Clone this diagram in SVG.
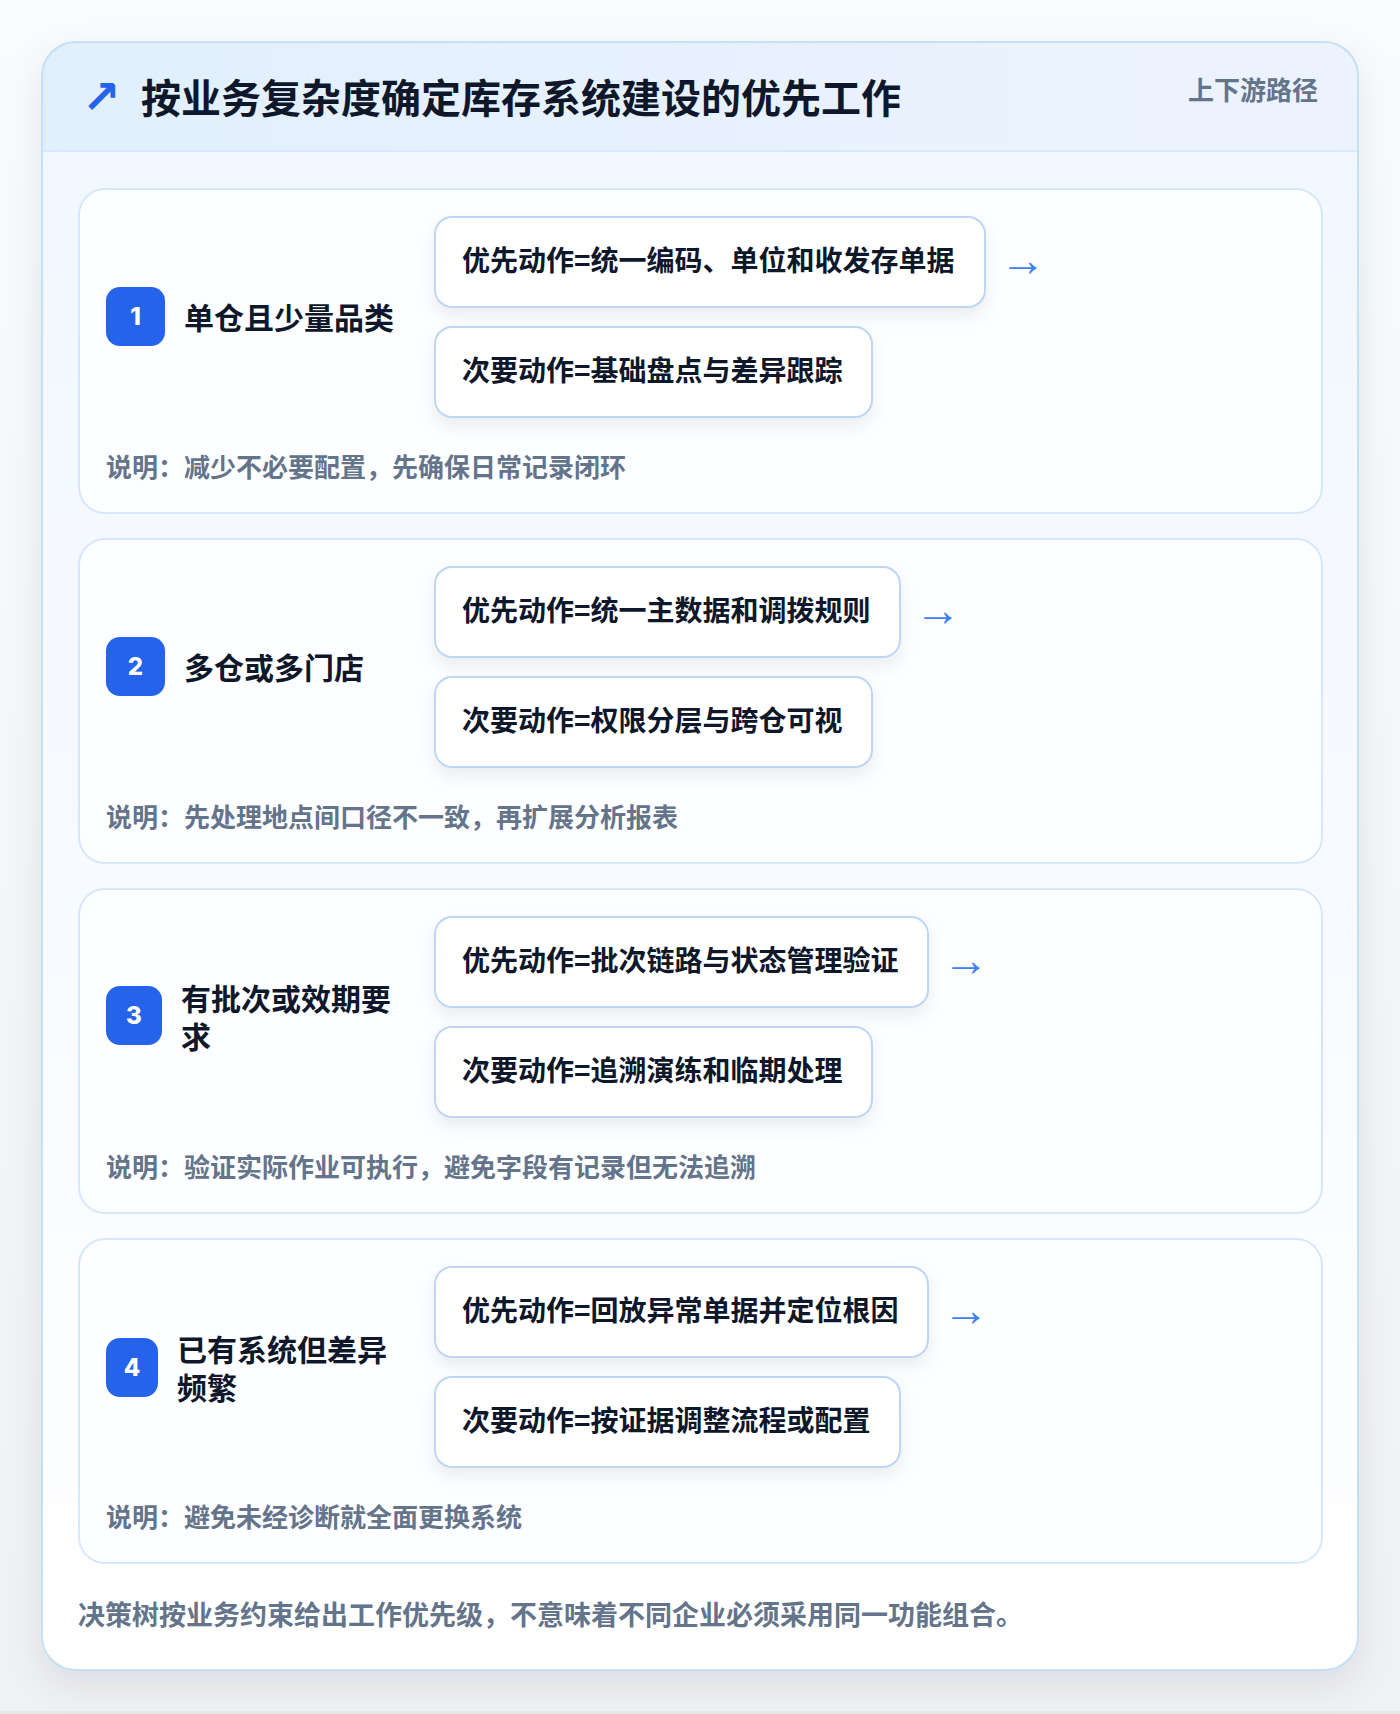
<svg xmlns="http://www.w3.org/2000/svg" width="1400" height="1714" viewBox="0 0 1400 1714">
  <defs>
    <style>
      .cjk { font-family: "Noto Sans CJK SC", "Noto Sans", "Liberation Sans", sans-serif; font-weight: 700; }
      .title { font-size: 40px; fill: #0f172a; }
      .tag { font-size: 26px; fill: #64748b; }
      .label { font-size: 30px; fill: #0f172a; }
      .act { font-size: 28px; fill: #0f172a; }
      .note { font-size: 26px; fill: #64748b; }
      .foot { font-size: 27px; fill: #64748b; }
      .badge { fill: #2563eb; }
      .num { font-family: "Inter", "Roboto", "Liberation Sans", sans-serif; font-weight: 800; font-size: 24px; fill: #ffffff; }
      .row { fill: #fdfeff; stroke: #d6e7fb; stroke-width: 2; }
      .box { fill: #ffffff; stroke: #bed6f6; stroke-width: 2; }
      .arrow { font-family: "Liberation Sans", "DejaVu Sans", sans-serif; font-weight: 700; font-size: 46px; fill: #3b82f6; }
      .icon { font-family: "DejaVu Sans", sans-serif; font-weight: 700; font-size: 46px; fill: #2563eb; }
    </style>
    <linearGradient id="pageBg" x1="0" y1="0" x2="0" y2="1">
      <stop offset="0" stop-color="#fafbfc"/>
      <stop offset="1" stop-color="#f0f1f4"/>
    </linearGradient>
    <linearGradient id="cardBg" x1="0" y1="0" x2="0" y2="1">
      <stop offset="0" stop-color="#f1f7ff"/>
      <stop offset="0.6" stop-color="#f8fbff"/>
      <stop offset="1" stop-color="#ffffff"/>
    </linearGradient>
    <linearGradient id="headBg" x1="0" y1="0" x2="1" y2="0">
      <stop offset="0" stop-color="#e1effd"/>
      <stop offset="1" stop-color="#edf3fe"/>
    </linearGradient>
    <filter id="cardShadow" x="-10%" y="-10%" width="120%" height="120%">
      <feDropShadow dx="0" dy="14" stdDeviation="18" flood-color="#0f172a" flood-opacity="0.09"/>
    </filter>
    <filter id="boxShadow" x="-10%" y="-20%" width="120%" height="160%">
      <feDropShadow dx="0" dy="8" stdDeviation="8" flood-color="#0f172a" flood-opacity="0.07"/>
    </filter>
    <clipPath id="cardClip">
      <rect x="42" y="42" width="1316" height="1628" rx="34"/>
    </clipPath>
  </defs>

  <rect x="0" y="0" width="1400" height="1714" fill="url(#pageBg)"/>
  <rect x="0" y="1711" width="1400" height="3" fill="#e6e8ec"/>

  <g id="panel">
    <rect x="42" y="42" width="1316" height="1628" rx="34" fill="url(#cardBg)" filter="url(#cardShadow)"/>
    <g clip-path="url(#cardClip)">
      <rect x="42" y="42" width="1316" height="109" fill="url(#headBg)"/>
      <rect x="42" y="150" width="1316" height="2" fill="#d9e9fb"/>
    </g>
    <rect x="42" y="42" width="1316" height="1628" rx="34" fill="none" stroke="#c4e1f6" stroke-width="2"/>
  </g>

  <g id="header">
    <text class="icon" x="82" y="113">↗</text>
    <text class="cjk title" x="141" y="113">按业务复杂度确定库存系统建设的优先工作</text>
    <text class="cjk tag" x="1318" y="100" text-anchor="end">上下游路径</text>
  </g>

  <g id="row1">
    <rect class="row" x="79" y="189" width="1243" height="324" rx="26"/>
    <rect class="badge" x="106" y="287" width="59" height="59" rx="14"/>
    <text class="num" x="135.5" y="325" text-anchor="middle">1</text>
    <text class="cjk label" x="184" y="329">单仓且少量品类</text>
    <g id="row1-primary">
      <rect class="box" x="435" y="217" width="550" height="90" rx="17" filter="url(#boxShadow)"/>
      <text class="cjk act" x="462" y="271">优先动作=统一编码、单位和收发存单据</text>
    </g>
    <g id="row1-secondary">
      <rect class="box" x="435" y="327" width="437" height="90" rx="17" filter="url(#boxShadow)"/>
      <text class="cjk act" x="462" y="381">次要动作=基础盘点与差异跟踪</text>
    </g>
    <text class="cjk note" x="106" y="477">说明：减少不必要配置，先确保日常记录闭环</text>
  </g>

  <g id="row2">
    <rect class="row" x="79" y="539" width="1243" height="324" rx="26"/>
    <rect class="badge" x="106" y="637" width="59" height="59" rx="14"/>
    <text class="num" x="135.5" y="675" text-anchor="middle">2</text>
    <text class="cjk label" x="184" y="679">多仓或多门店</text>
    <g id="row2-primary">
      <rect class="box" x="435" y="567" width="465" height="90" rx="17" filter="url(#boxShadow)"/>
      <text class="cjk act" x="462" y="621">优先动作=统一主数据和调拨规则</text>
    </g>
    <g id="row2-secondary">
      <rect class="box" x="435" y="677" width="437" height="90" rx="17" filter="url(#boxShadow)"/>
      <text class="cjk act" x="462" y="731">次要动作=权限分层与跨仓可视</text>
    </g>
    <text class="cjk note" x="106" y="827">说明：先处理地点间口径不一致，再扩展分析报表</text>
  </g>

  <g id="row3">
    <rect class="row" x="79" y="889" width="1243" height="324" rx="26"/>
    <rect class="badge" x="106" y="986" width="56" height="59" rx="14"/>
    <text class="num" x="134" y="1024" text-anchor="middle">3</text>
    <text class="cjk label" x="181" y="1010">有批次或效期要</text>
    <text class="cjk label" x="181" y="1048">求</text>
    <g id="row3-primary">
      <rect class="box" x="435" y="917" width="493" height="90" rx="17" filter="url(#boxShadow)"/>
      <text class="cjk act" x="462" y="971">优先动作=批次链路与状态管理验证</text>
    </g>
    <g id="row3-secondary">
      <rect class="box" x="435" y="1027" width="437" height="90" rx="17" filter="url(#boxShadow)"/>
      <text class="cjk act" x="462" y="1081">次要动作=追溯演练和临期处理</text>
    </g>
    <text class="cjk note" x="106" y="1177">说明：验证实际作业可执行，避免字段有记录但无法追溯</text>
  </g>

  <g id="row4">
    <rect class="row" x="79" y="1239" width="1243" height="324" rx="26"/>
    <rect class="badge" x="106" y="1338" width="52" height="59" rx="14"/>
    <text class="num" x="132" y="1376" text-anchor="middle">4</text>
    <text class="cjk label" x="177" y="1361">已有系统但差异</text>
    <text class="cjk label" x="177" y="1399">频繁</text>
    <g id="row4-primary">
      <rect class="box" x="435" y="1267" width="493" height="90" rx="17" filter="url(#boxShadow)"/>
      <text class="cjk act" x="462" y="1321">优先动作=回放异常单据并定位根因</text>
    </g>
    <g id="row4-secondary">
      <rect class="box" x="435" y="1377" width="465" height="90" rx="17" filter="url(#boxShadow)"/>
      <text class="cjk act" x="462" y="1431">次要动作=按证据调整流程或配置</text>
    </g>
    <text class="cjk note" x="106" y="1527">说明：避免未经诊断就全面更换系统</text>
  </g>

  <g id="connectors">
    <text class="arrow" x="1000" y="276">→</text>
    <text class="arrow" x="915" y="626">→</text>
    <text class="arrow" x="943" y="976">→</text>
    <text class="arrow" x="943" y="1326">→</text>
  </g>

  <g id="footer">
    <text class="cjk foot" x="78" y="1625">决策树按业务约束给出工作优先级，不意味着不同企业必须采用同一功能组合。</text>
  </g>
</svg>
